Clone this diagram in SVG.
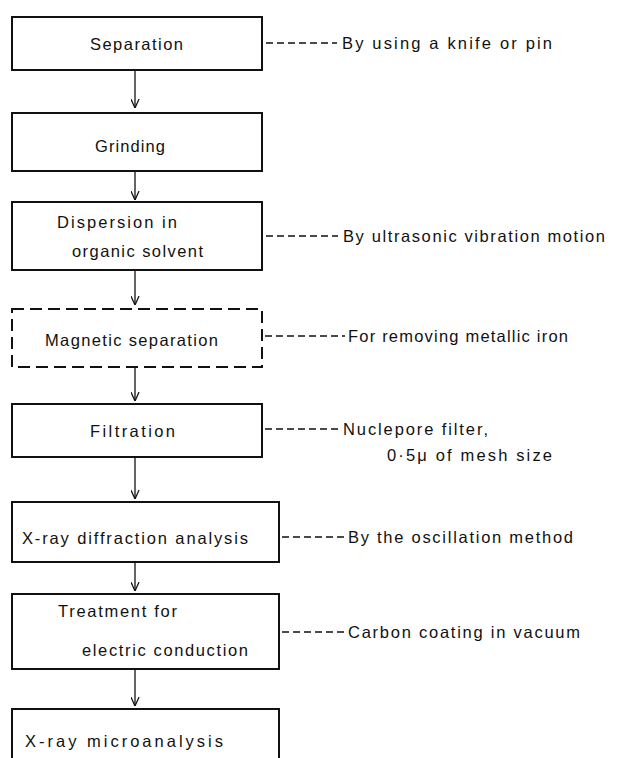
<svg xmlns="http://www.w3.org/2000/svg" width="617" height="758" viewBox="0 0 617 758">
<style>
.box{fill:#fff;stroke:#111;stroke-width:2}
.dbox{fill:#fff;stroke:#111;stroke-width:2;stroke-dasharray:12 6}
.t{font-family:"Liberation Sans","DejaVu Sans",sans-serif;font-size:16.5px;fill:#111}
.arr{stroke:#111;stroke-width:1.3;fill:none;marker-end:url(#ah)}
.lead{stroke:#111;stroke-width:1.3;stroke-dasharray:7 4;fill:none}
</style>
<defs>
<marker id="ah" viewBox="0 0 10 10" refX="10" refY="5" markerWidth="9" markerHeight="9" markerUnits="userSpaceOnUse" orient="auto">
<path d="M0,0.5 L10,5 L0,9.5" fill="none" stroke="#111" stroke-width="1.4"/>
</marker>
</defs>
<rect width="617" height="758" fill="#fff"/>
<g id="connectors">
<line class="arr" x1="135" y1="70" x2="135" y2="108"/>
<line class="arr" x1="135" y1="171" x2="135" y2="200"/>
<line class="arr" x1="135" y1="270" x2="135" y2="305"/>
<line class="arr" x1="135" y1="367" x2="135" y2="401"/>
<line class="arr" x1="135" y1="457" x2="135" y2="499"/>
<line class="arr" x1="135" y1="562" x2="135" y2="591"/>
<line class="arr" x1="135" y1="669" x2="135" y2="706"/>
<line class="lead" x1="266" y1="43" x2="337" y2="43"/>
<line class="lead" x1="266" y1="236" x2="338" y2="236"/>
<line class="lead" x1="265" y1="336" x2="345" y2="336"/>
<line class="lead" x1="265" y1="429" x2="342" y2="429"/>
<line class="lead" x1="282" y1="537" x2="345" y2="537"/>
<line class="lead" x1="282" y1="632" x2="345" y2="632"/>
</g>
<g id="separation">
<rect class="box" x="12" y="17" width="250" height="53"/>
<text class="t" x="90" y="50" textLength="93" lengthAdjust="spacing">Separation</text>
</g>
<g id="grinding">
<rect class="box" x="12" y="113" width="250" height="58"/>
<text class="t" x="95" y="152" textLength="70" lengthAdjust="spacing">Grinding</text>
</g>
<g id="dispersion">
<rect class="box" x="12" y="202" width="250" height="68"/>
<text class="t" x="57" y="228" textLength="120" lengthAdjust="spacing">Dispersion in</text>
<text class="t" x="72" y="257" textLength="131" lengthAdjust="spacing">organic solvent</text>
</g>
<g id="magnetic">
<rect class="dbox" x="12" y="309" width="250" height="58"/>
<text class="t" x="45" y="346" textLength="173" lengthAdjust="spacing">Magnetic separation</text>
</g>
<g id="filtration">
<rect class="box" x="12" y="404" width="250" height="53"/>
<text class="t" x="90" y="437" textLength="85" lengthAdjust="spacing">Filtration</text>
</g>
<g id="xrd">
<rect class="box" x="12" y="502" width="267" height="60"/>
<text class="t" x="22" y="544" textLength="226" lengthAdjust="spacing">X-ray diffraction analysis</text>
</g>
<g id="treatment">
<rect class="box" x="12" y="594" width="267" height="75"/>
<text class="t" x="58" y="617" textLength="119" lengthAdjust="spacing">Treatment for</text>
<text class="t" x="82" y="656" textLength="166" lengthAdjust="spacing">electric conduction</text>
</g>
<g id="microanalysis">
<path class="box" d="M12,760 V709 H279 V760"/>
<text class="t" x="25" y="747" textLength="198" lengthAdjust="spacing">X-ray microanalysis</text>
</g>
<g id="labels">
<text class="t" x="342" y="49" textLength="210" lengthAdjust="spacing">By using a knife or pin</text>
<text class="t" x="343" y="242" textLength="262" lengthAdjust="spacing">By ultrasonic vibration motion</text>
<text class="t" x="348" y="342" textLength="220" lengthAdjust="spacing">For removing metallic iron</text>
<text class="t" x="343" y="435" textLength="145" lengthAdjust="spacing">Nuclepore filter,</text>
<text class="t" x="387" y="461" textLength="165" lengthAdjust="spacing">0·5μ of mesh size</text>
<text class="t" x="348" y="543" textLength="225" lengthAdjust="spacing">By the oscillation method</text>
<text class="t" x="348" y="638" textLength="232" lengthAdjust="spacing">Carbon coating in vacuum</text>
</g>
</svg>
